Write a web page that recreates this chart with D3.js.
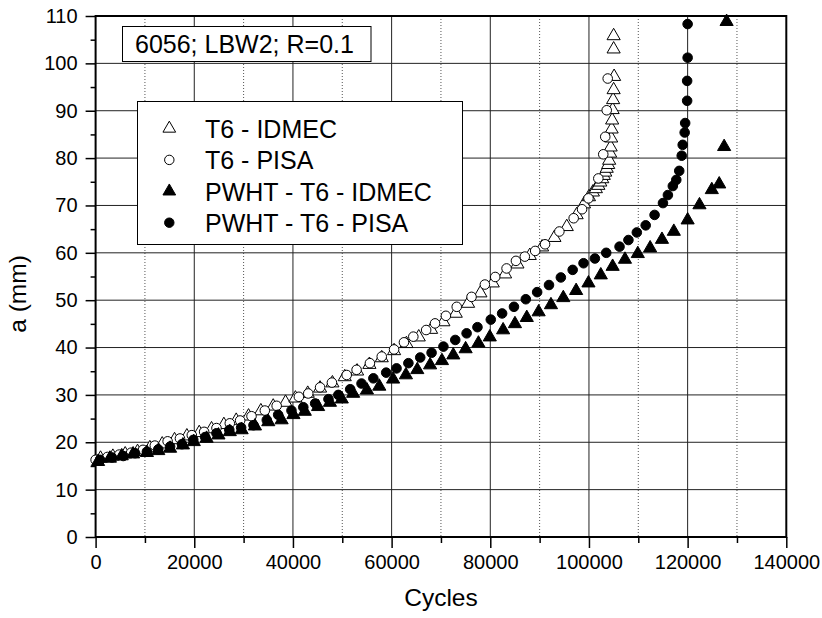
<!DOCTYPE html>
<html>
<head>
<meta charset="utf-8">
<script src="https://d3js.org/d3.v7.min.js"></script>
<style>
body { margin: 0; background: #fff; }
svg { display: block; font-family: "Liberation Sans", Arial, sans-serif; }
</style>
</head>
<body>
<svg id="chart" width="822" height="618"></svg>
<script>
// ---- data ----
const xTicks = [0, 20000, 40000, 60000, 80000, 100000, 120000, 140000];
const yTicks = [0, 10, 20, 30, 40, 50, 60, 70, 80, 90, 100, 110];
const xMinor = [10000, 30000, 50000, 70000, 90000, 110000, 130000];
const yMinor = [5, 15, 25, 35, 45, 55, 65, 75, 85, 95, 105];
const seriesNames = ["T6 - IDMEC", "T6 - PISA", "PWHT - T6 - IDMEC", "PWHT - T6 - PISA"];
const annotation = "6056; LBW2; R=0.1";
const xTitle = "Cycles";
const yTitle = "a (mm)";

const t6Idmec = [[1000,16.6],[3500,17.0],[6000,17.5],[8500,18.0],[11000,18.8],[13500,19.6],[16000,20.5],[18500,21.3],[21000,22.0],[23500,22.8],[26000,23.7],[28500,24.6],[31000,25.5],[33500,26.6],[36000,27.6],[38500,28.4],[40500,29.3],[43000,30.3],[45500,31.4],[48000,32.5],[50500,33.8],[53000,35.0],[55500,36.4],[58000,37.8],[60500,39.3],[63000,40.8],[65500,42.2],[68000,43.8],[70500,45.4],[73000,47.2],[75500,49.3],[78000,51.5],[80500,53.6],[83000,55.5],[85500,57.6],[88000,59.4],[90500,61.2],[93000,63.2],[95500,65.5],[97500,68.0],[99000,70.3],[100000,71.8],[100800,72.8],[101400,73.5],[101900,74.2],[102300,74.9],[102700,75.6],[103000,76.3],[103300,77.0],[103600,77.8],[103900,78.6],[104100,79.5],[104300,81.0],[104400,82.3],[104500,84.2],[104600,86.1],[104700,88.0],[104800,90.2],[104900,92.3],[105000,94.4],[105100,97.2],[105000,103.0],[105000,105.8]];

const t6Pisa = [[0,16.3],[2400,16.9],[4800,17.4],[7200,17.8],[9600,18.4],[12000,19.3],[14600,20.2],[17100,20.8],[19500,21.5],[22000,22.2],[24500,23.0],[27200,24.0],[29300,24.6],[31600,25.5],[34300,26.7],[36700,27.7],[41200,29.6],[43100,30.3],[45500,31.6],[47900,32.6],[50900,34.2],[52900,35.3],[55600,36.7],[58000,38.1],[60500,39.6],[62500,41.1],[64400,42.3],[67000,43.7],[68800,45.1],[71000,46.7],[73200,48.6],[76200,50.7],[78900,53.3],[81000,54.9],[83300,56.7],[85200,58.3],[87000,59.2],[89100,60.4],[91100,61.8],[94000,64.5],[96900,67.3],[98600,69.2],[99900,71.5],[101900,75.7],[102900,80.8],[103300,84.5],[103600,90.1],[103800,96.8]];

const pwhtIdmec = [[500,15.9],[2900,16.6],[5300,17.1],[7600,17.5],[10400,17.8],[12700,18.2],[15100,18.7],[17700,19.4],[19900,20.1],[22500,20.8],[24900,21.5],[27200,22.2],[29600,22.6],[32300,23.4],[35000,24.3],[37700,24.7],[40100,25.8],[42400,26.5],[45100,27.5],[47500,28.4],[49900,29.1],[52200,30.3],[55000,31.0],[57500,31.8],[60300,33.3],[62900,34.2],[65200,35.3],[67800,36.3],[70200,37.2],[72500,38.4],[75000,39.7],[77600,40.9],[79900,42.2],[82600,43.7],[85000,45.0],[87400,46.3],[89800,47.5],[92300,49.0],[94800,50.5],[97400,52.0],[99900,53.6],[102400,55.3],[104800,57.1],[107300,58.6],[109900,59.8],[112400,61.0],[114800,62.8],[117200,64.5],[120000,66.9],[122400,70.1],[124900,73.3],[126400,74.5],[127400,82.4],[127900,108.8]];

const pwhtPisa = [[900,16.3],[3300,16.8],[5600,17.1],[8000,17.7],[10400,18.0],[12700,18.5],[15100,19.1],[17500,19.6],[19800,20.5],[22200,21.1],[24500,21.9],[27100,22.6],[29500,23.1],[32000,23.6],[34700,24.7],[37000,25.8],[39700,26.7],[42100,27.4],[44500,28.2],[47200,29.1],[49200,30.0],[51600,31.2],[53900,32.4],[56300,33.5],[58900,34.7],[61000,35.6],[63400,36.7],[65800,37.9],[68100,38.9],[70500,40.2],[72900,41.6],[75200,43.0],[77400,44.3],[80100,45.9],[82400,47.2],[84800,48.6],[87200,50.2],[89500,51.7],[91900,53.2],[94300,54.8],[96700,56.4],[98900,57.8],[101200,58.8],[103500,60.0],[106200,61.3],[108000,62.7],[109700,64.3],[111500,65.8],[113300,68.0],[115000,70.5],[116000,72.2],[117000,74.1],[117700,75.4],[118300,77.3],[118800,80.5],[119000,82.8],[119400,85.4],[119500,87.4],[119900,92.1],[119900,96.3],[120000,101.2],[120000,108.3]];

// ---- layout ----
const L = 95.6, R = 786.3, T = 16, B = 537;
const svg = d3.select("#chart");
const x = d3.scaleLinear().domain([0, 140000]).range([L, R]);
const y = d3.scaleLinear().domain([0, 110]).range([B, T]);

// grid
const g = svg.append("g");
g.selectAll(".vminor").data(xMinor).enter().append("line")
  .attr("x1", d => x(d)).attr("x2", d => x(d)).attr("y1", T).attr("y2", B)
  .attr("stroke", "#555").attr("stroke-width", 1).attr("stroke-dasharray", "1,2");
g.selectAll(".vmajor").data(xTicks.filter(d => d > 0 && d < 140000)).enter().append("line")
  .attr("x1", d => x(d)).attr("x2", d => x(d)).attr("y1", T).attr("y2", B)
  .attr("stroke", "#222").attr("stroke-width", 1);
g.selectAll(".hmajor").data(yTicks.filter(d => d > 0 && d < 110)).enter().append("line")
  .attr("x1", L).attr("x2", R).attr("y1", d => y(d)).attr("y2", d => y(d))
  .attr("stroke", "#222").attr("stroke-width", 1);

// axes
const xAxis = d3.axisBottom(x).tickValues(xTicks).tickSize(11).tickPadding(7).tickFormat(d3.format("d"));
const xAxisMinor = d3.axisBottom(x).tickValues(xMinor).tickSize(6).tickFormat("");
const yAxis = d3.axisLeft(y).tickValues(yTicks).tickSize(10).tickPadding(8).tickFormat(d3.format("d"));
const yAxisMinor = d3.axisLeft(y).tickValues(yMinor).tickSize(5).tickFormat("");

function styleAxis(sel) {
  sel.select(".domain").remove();
  sel.selectAll("line").attr("stroke", "#000").attr("stroke-width", 1.5);
  sel.selectAll("text").attr("font-size", 20).attr("fill", "#000")
    .attr("font-family", "Liberation Sans, Arial, sans-serif");
}
svg.append("g").attr("transform", `translate(0,${B})`).call(xAxis).call(styleAxis);
svg.append("g").attr("transform", `translate(0,${B})`).call(xAxisMinor).call(styleAxis);
svg.append("g").attr("transform", `translate(${L},0)`).call(yAxis).call(styleAxis);
svg.append("g").attr("transform", `translate(${L},0)`).call(yAxisMinor).call(styleAxis);

// frame
svg.append("rect").attr("x", L).attr("y", T).attr("width", R - L).attr("height", B - T)
  .attr("fill", "none").attr("stroke", "#000").attr("stroke-width", 2);

// markers
const triUp = d3.symbol().type(d3.symbolTriangle).size(75);
const circ = d3.symbol().type(d3.symbolCircle).size(72);
const styles = [
  { data: t6Idmec, sym: triUp, fill: "#fff" },
  { data: t6Pisa, sym: circ, fill: "#fff" },
  { data: pwhtIdmec, sym: triUp, fill: "#000" },
  { data: pwhtPisa, sym: circ, fill: "#000" }
];
const pts = svg.append("g");
styles.forEach(s => {
  pts.append("g").selectAll("path").data(s.data).enter().append("path")
    .attr("d", s.sym())
    .attr("transform", d => `translate(${x(d[0])},${y(d[1])})`)
    .attr("fill", s.fill).attr("stroke", "#000").attr("stroke-width", 1);
});

// annotation box
svg.append("rect").attr("x", 122.5).attr("y", 26.5).attr("width", 248.5).attr("height", 35)
  .attr("fill", "#fff").attr("stroke", "#000").attr("stroke-width", 1);
svg.append("text").attr("x", 135).attr("y", 53).attr("font-size", 25).text(annotation);

// legend
svg.append("rect").attr("x", 137.5).attr("y", 101.5).attr("width", 325).attr("height", 143)
  .attr("fill", "#fff").attr("stroke", "#000").attr("stroke-width", 1);
const legendSyms = [
  { sym: d3.symbol().type(d3.symbolTriangle).size(70), fill: "#fff" },
  { sym: d3.symbol().type(d3.symbolCircle).size(70), fill: "#fff" },
  { sym: d3.symbol().type(d3.symbolTriangle).size(70), fill: "#000" },
  { sym: d3.symbol().type(d3.symbolCircle).size(70), fill: "#000" }
];
const leg = svg.append("g");
seriesNames.forEach((name, i) => {
  const cy = 128.5 + i * 31.4;
  leg.append("path").attr("d", legendSyms[i].sym())
    .attr("transform", `translate(169.3,${cy})`)
    .attr("fill", legendSyms[i].fill).attr("stroke", "#000").attr("stroke-width", 1);
  leg.append("text").attr("x", 205).attr("y", cy + 9.5).attr("font-size", 25).text(name);
});

// axis titles
svg.append("text").attr("x", (L + R) / 2).attr("y", 606).attr("text-anchor", "middle")
  .attr("font-size", 24.5).text(xTitle);
svg.append("text").attr("transform", "translate(26,294) rotate(-90)").attr("text-anchor", "middle")
  .attr("font-size", 24.5).text(yTitle);
</script>
</body>
</html>
